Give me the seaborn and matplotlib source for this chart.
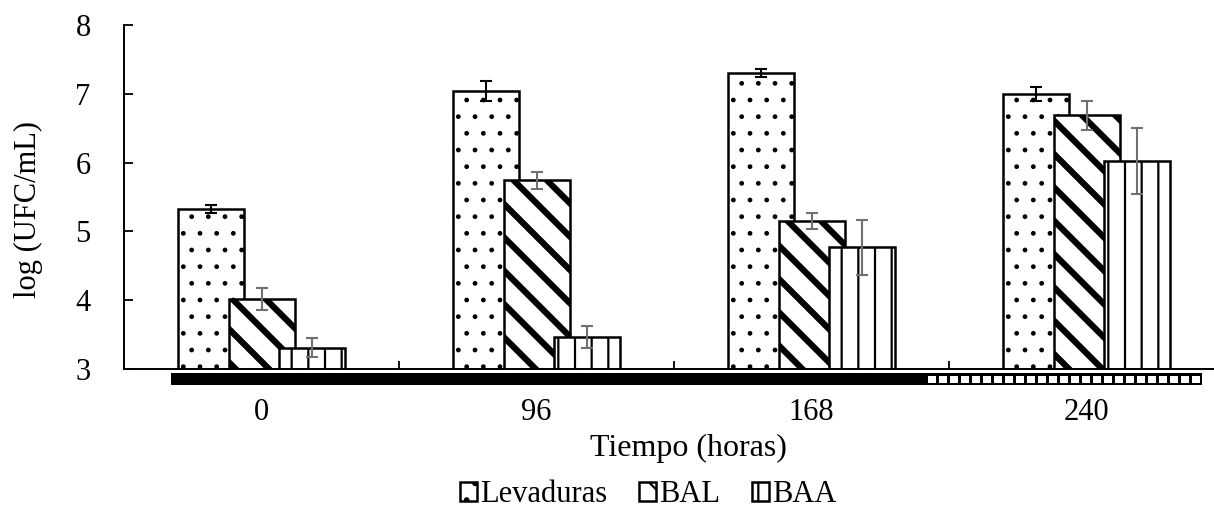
import matplotlib
matplotlib.use("Agg")
import matplotlib.pyplot as plt
from matplotlib.patches import Rectangle, Patch
import numpy as np
import pandas as pd
import seaborn as sns

# ---- datos ----
tiempos = ["0", "96", "168", "240"]
series = ["Levaduras", "BAL", "BAA"]
levaduras = [5.33, 7.04, 7.30, 7.00]
levaduras_err = [0.06, 0.15, 0.06, 0.10]
bal = [4.02, 5.74, 5.15, 6.69]
bal_err = [0.16, 0.12, 0.12, 0.21]
baa = [3.31, 3.47, 4.77, 6.02]
baa_err = [0.14, 0.16, 0.40, 0.48]

# barra de fases bajo el eje (oscuridad / luz), en unidades de categoría
fase_oscura = (-0.33, 2.41)
fase_clara = (2.41, 3.42)

sns.set_style("white")
plt.rcParams["font.family"] = ["Liberation Serif", "DejaVu Serif"]
plt.rcParams["font.size"] = 22
plt.rcParams["hatch.color"] = "black"
for k in ["text.color", "axes.labelcolor", "xtick.color", "ytick.color"]:
    plt.rcParams[k] = "black"

fig = plt.figure(figsize=(12.14, 5.08), dpi=100)
ax = fig.add_axes([124 / 1214, 139 / 508, 1100 / 1214, 344 / 508])

ancho = 0.24
paso = 0.182
estilos = [
    # (valores, errores, hatch, grosor hatch, color error)
    (levaduras, levaduras_err, ".", 1.0, "black"),
    (bal, bal_err, "\\", 4.5, "#707070"),
    (baa, baa_err, "|", 1.6, "#707070"),
]

x = np.arange(len(tiempos))
for i, (vals, errs, h, hlw, ecol) in enumerate(estilos):
    pos = x + (i - 1) * paso
    df = pd.DataFrame({"pos": pos, "valor": vals})
    plt.rcParams["hatch.linewidth"] = hlw
    n_antes = len(ax.patches)
    sns.barplot(data=df, x="pos", y="valor", native_scale=True, width=ancho,
                color="white", saturation=1, edgecolor="black", linewidth=1.8,
                hatch=h, errorbar=None, ax=ax)
    for p in ax.patches[n_antes:]:
        if hasattr(p, "set_hatch_linewidth"):
            p.set_hatch_linewidth(hlw)
    ax.errorbar(pos, vals, yerr=errs, fmt="none", ecolor=ecol,
                elinewidth=1.5, capsize=4.5, capthick=1.5, zorder=6)

ax.set_ylim(3, 8)
ax.set_xlim(-0.5, 3.5)
ax.set_yticks(range(3, 9))
ax.set_xticks(x)
ax.set_xticklabels(tiempos)
ax.set_xticks(np.arange(-0.5, 4, 1), minor=True)
ax.tick_params(axis="y", direction="in", length=6.5, width=1.3, pad=24,
               labelsize=22, left=True)
ax.tick_params(axis="x", which="major", length=0, pad=21, labelsize=22)
ax.tick_params(axis="x", which="minor", direction="in", length=6, width=1.3,
               bottom=True)

for s in ["top", "right"]:
    ax.spines[s].set_visible(False)
for s in ["left", "bottom"]:
    ax.spines[s].set_color("black")
    ax.spines[s].set_linewidth(1.4)

ax.set_xlabel("Tiempo (horas)", fontsize=23)
ax.set_ylabel("log (UFC/mL)", fontsize=22)
ax.xaxis.set_label_coords(0.513, -0.19)
ax.yaxis.set_label_coords(-0.074, 0.465)

# banda de fases
y0, y1 = 2.767, 2.942
ax.add_patch(Rectangle((fase_oscura[0], y0), fase_oscura[1] - fase_oscura[0],
                       y1 - y0, facecolor="black", edgecolor="none",
                       clip_on=False, zorder=7))
ax.add_patch(Rectangle((fase_clara[0], y0), fase_clara[1] - fase_clara[0],
                       y1 - y0, facecolor="black", edgecolor="none",
                       clip_on=False, zorder=7))
periodo = 0.04
lado = 0.029
xs = fase_clara[0] + 0.012
while xs + lado < fase_clara[1]:
    ax.add_patch(Rectangle((xs, 2.797), lado, 0.101, facecolor="white",
                           edgecolor="none", clip_on=False, zorder=8))
    xs += periodo

# leyenda
handles = []
for nombre, (_, _, h, hlw, _) in zip(series, estilos):
    handles.append(Patch(facecolor="white", edgecolor="black", linewidth=1.8,
                         hatch=h, label=nombre))
fig.legend(handles=handles, loc="center", bbox_to_anchor=(0.534, 0.026),
           ncol=3, frameon=False, fontsize=22, handlelength=0.55,
           handleheight=0.55, handletextpad=0.1, columnspacing=1.05)

fig.savefig("out.png", dpi=100)
